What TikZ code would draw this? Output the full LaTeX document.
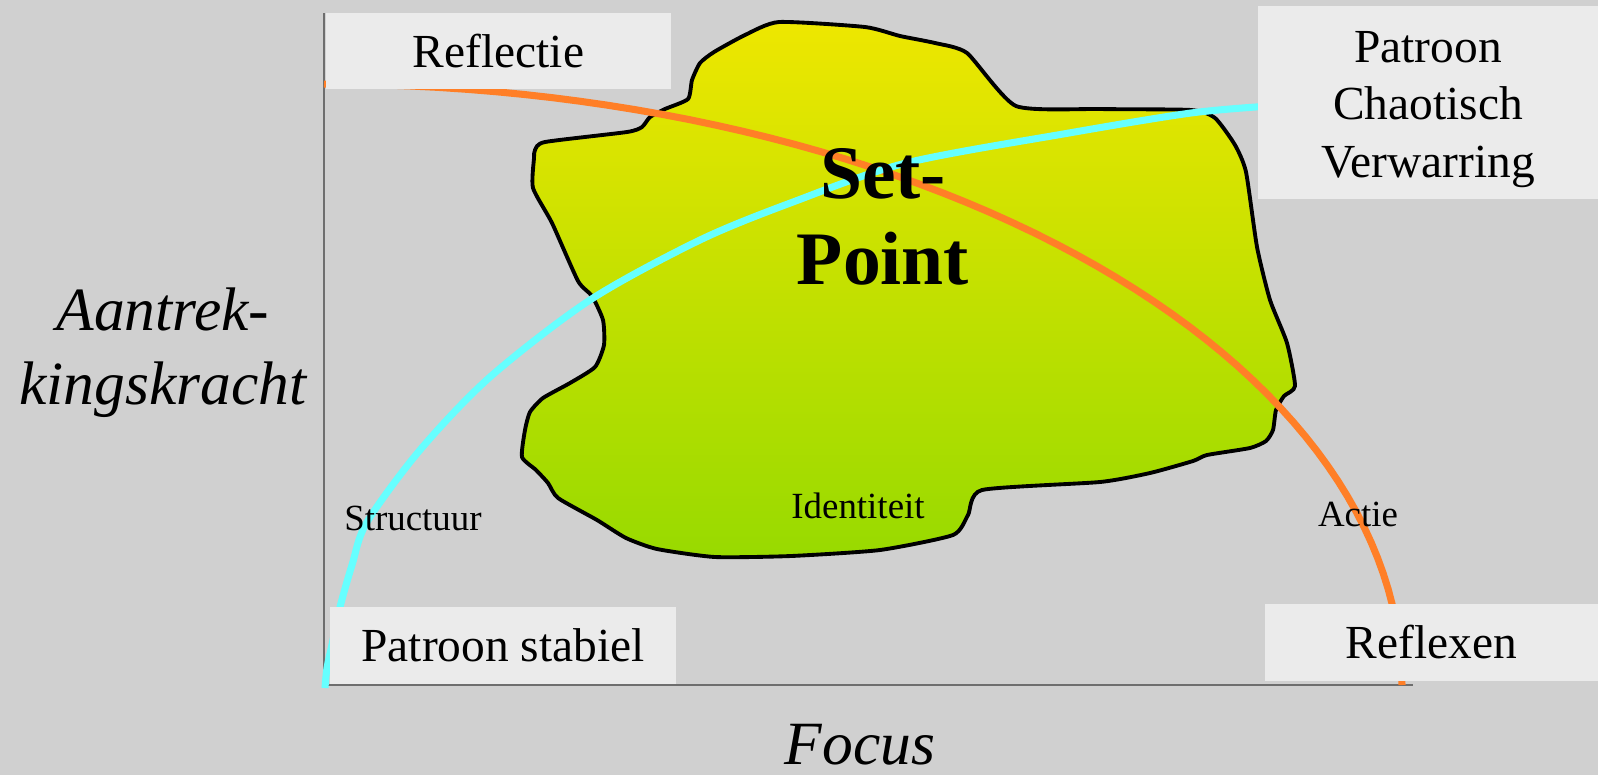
\documentclass[tikz,border=0pt]{standalone}
\usepackage{fontspec}
\setmainfont{Liberation Serif}
\definecolor{bggray}{HTML}{D0D0D0}
\definecolor{boxgray}{HTML}{EBEBEB}
\definecolor{blobtop}{HTML}{EEE700}
\definecolor{blobbot}{HTML}{98DA00}
\definecolor{arcorange}{HTML}{FF7F27}
\definecolor{arccyan}{HTML}{66FFFF}
\definecolor{axisgray}{HTML}{6E6E6E}

\begin{document}
\begin{tikzpicture}[x=0.02cm, y=-0.02cm,
    labelbox/.style={fill=boxgray, inner sep=0pt, align=center, font=\fontsize{27}{32.6}\selectfont},
    smalllabel/.style={anchor=base, inner sep=0pt, font=\fontsize{21}{25}\selectfont},
    axislabel/.style={inner sep=0pt, align=center, font=\fontsize{35}{42}\selectfont\itshape}]
      \fill[bggray] (0,0) rectangle (1598,775);
      \draw[black, line width=2.2pt, top color=blobtop, bottom color=blobbot]
        plot[smooth cycle, tension=0.35] coordinates {(535,150) (545,142) (627,132) (642,127) (650,117)
          (665,109) (688,99) (692,80) (700,63) (714,52) (745,35) (779,22) (865,27) (900,36) (935,43)
          (967,53) (1016,106) (1100,109) (1191,110) (1215,118) (1235,145) (1246,172) (1257,247)
          (1270,300) (1287,343) (1295,386) (1284,396) (1276,410) (1273,430) (1266,441) (1250,448)
          (1207,455) (1193,461) (1150,473) (1100,482) (982,490) (968,515) (953,535) (880,550)
          (791,556) (715,557) (657,549) (626,538) (597,520) (558,498) (548,483) (536,470) (522,457)
          (525,430) (530,412) (543,398) (570,383) (595,367) (604,345) (603,320) (592,296) (578,281)
          (552,223) (533,188) (534,158)};
      \draw[axisgray, line width=1.1pt] (324,13) -- (324,685) -- (1413,685);
      \draw[arcorange, line width=4pt] plot[domain=0:90, samples=60] ({324+1078*cos(\x)}, {685-601*sin(\x)});
      \draw[arccyan, line width=4pt] plot[smooth] coordinates {(325,688) (327,668) (333,640) (340,607)
        (352,565) (367,522) (420,450) (490,377) (590,300) (700,240) (793,202) (906,163)
        (1069,133) (1191,113) (1270,106)};
      \node[inner sep=0pt, align=center, font=\fontsize{43}{48.8}\selectfont\bfseries] (setpoint) at (883,217) {Set-\\Point};
      \foreach \lbl/\px/\py in {Structuur/413/530, Identiteit/858/518, Actie/1358/526}
        \node[smalllabel] (\lbl) at (\px,\py) {\lbl};
      \node[labelbox, minimum width=6.9cm, minimum height=1.52cm] (refl) at (498.5,51) {Reflectie};
      \node[labelbox, minimum width=6.8cm, minimum height=3.86cm,
        label={[align=center, inner sep=0pt, yshift=-0.14cm, font=\fontsize{27}{32.6}\selectfont]center:{Patroon\\Chaotisch\\Verwarring}}] (chaos) at (1428,102.5) {};
      \node[labelbox, minimum width=6.92cm, minimum height=1.54cm] (stabiel) at (503,645.5) {Patroon stabiel};
      \node[labelbox, minimum width=6.66cm, minimum height=1.54cm] (reflex) at (1431.5,642.5) {Reflexen};
      \node[axislabel] (kracht) at (163,353) {Aantrek-\\kingskracht};
      \node[axislabel, anchor=base] (focus) at (860,764) {Focus};
    \end{tikzpicture}
\end{document}
